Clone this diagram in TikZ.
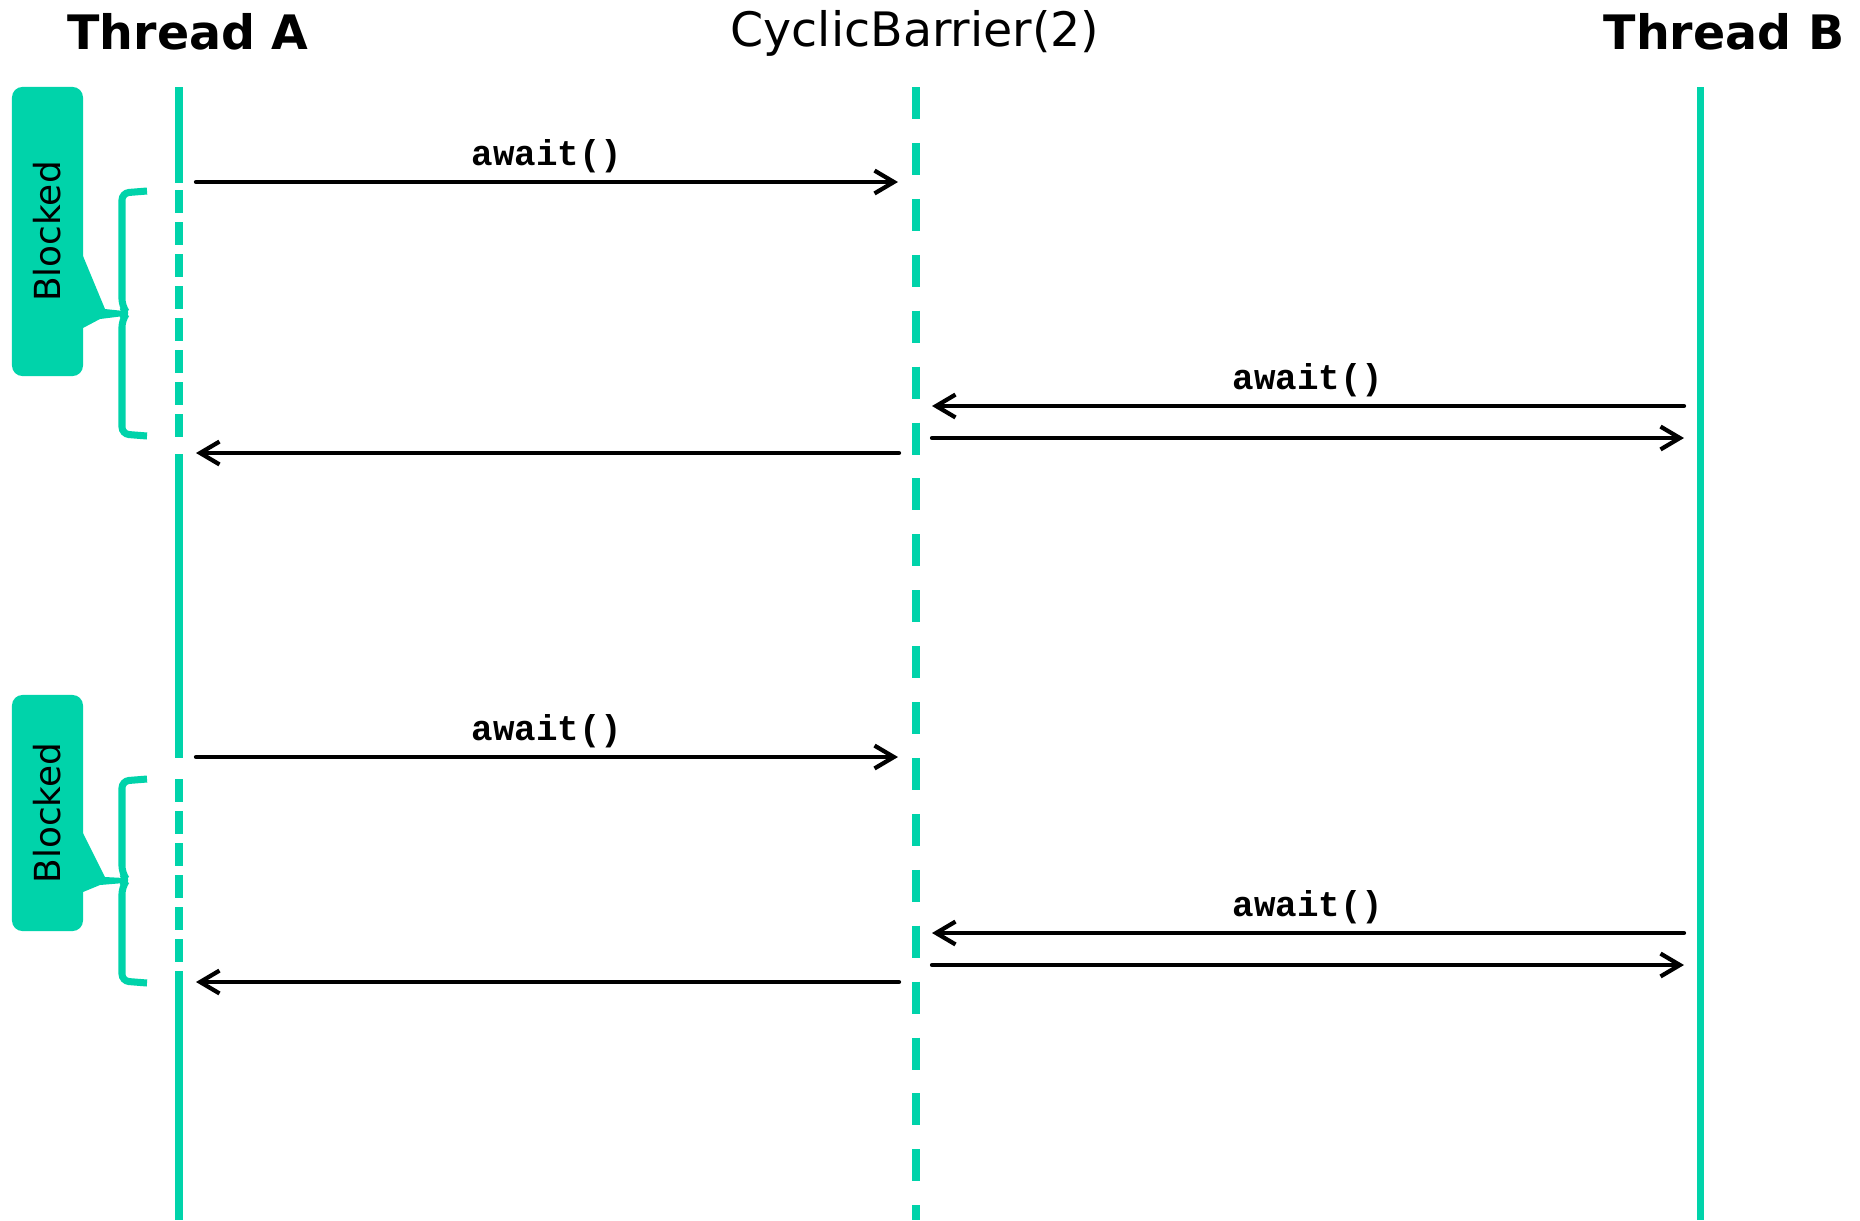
\documentclass[tikz,border=0pt]{standalone}
\usepackage{fontspec}
\setmainfont{DejaVu Sans}
\setmonofont{Liberation Mono}
\usetikzlibrary{arrows.meta}
\definecolor{lifegreen}{RGB}{0,211,170}
\newcommand{\point}[2] {\coordinate (#2) at (#1);}
\newcommand{\header}[3] {\node at (#1) (#2) [header] {#3};}
\newcommand{\callmsg}[3] {\draw [msg] (#1) -- (#2) node [midway, anchor=base, yshift=4.6pt, font=\ttfamily\bfseries\fontsize{10.2}{12}\selectfont] {#3};}
\newcommand{\replymsg}[2] {\draw [msg] (#1) -- (#2);}

\begin{document}
\begin{tikzpicture}[x=0.01cm, y=-0.01cm,
  header/.style={anchor=base, font=\fontsize{13.5}{16}\selectfont},
  msg/.style={line width=1.2pt, line cap=round, -{Straight Barb[length=5.5pt,width=6.5pt]}},
  lifeline/.style={lifegreen, line width=2pt},
  waitline/.style={lifegreen, line width=2pt, dash pattern=on 6.5pt off 2.6pt},
  barrierline/.style={lifegreen, line width=2.3pt, dash pattern=on 9.1pt off 6.8pt},
  blockbox/.style={fill=lifegreen, rounded corners=3pt, rotate=90, inner sep=0pt, minimum height=0.71cm, font=\fontsize{10.2}{12}\selectfont},
  bracket/.style={lifegreen, line width=2pt, rounded corners=2pt}]

\useasboundingbox (0,0) rectangle (1860,1220);

\header {188,49} {threadA} {\bfseries Thread A};
\header {915,46} {barrier} {CyclicBarrier(2)};
\header {1724,49} {threadB} {\bfseries Thread B};

% lifelines
\point {179,87} {a0};
\point {179,183} {a1};
\point {179,190} {a2};
\point {179,446} {a3};
\point {179,454} {a4};
\point {179,758} {a5};
\point {179,779} {a6};
\point {179,975} {a7};
\point {179,1220} {a8};
\point {916,87} {btop};
\point {916,1220} {bbot};
\point {1700,87} {ctop};
\point {1700,1220} {cbot};

\draw [lifeline] (a0) -- (a1);
\draw [waitline] (a2) -- (a3);
\draw [lifeline] (a4) -- (a5);
\draw [waitline] (a6) -- (a7);
\draw [lifeline] (a7) -- (a8);
\draw [barrierline] (btop) -- (bbot);
\draw [lifeline] (ctop) -- (cbot);

% first round
\point {196,182} {s1};
\point {898,182} {r1};
\point {1684,406} {s2};
\point {932,406} {r2};
\point {932,438} {s3};
\point {1684,438} {r3};
\point {899,453} {s4};
\point {196,453} {r4};

\callmsg{s1}{r1}{await()};
\callmsg{s2}{r2}{await()};
\replymsg{s3}{r3};
\replymsg{s4}{r4};

% second round
\point {196,757} {s5};
\point {898,757} {r5};
\point {1684,933} {s6};
\point {932,933} {r6};
\point {932,965} {s7};
\point {1684,965} {r7};
\point {899,982} {s8};
\point {196,982} {r8};

\callmsg{s5}{r5}{await()};
\callmsg{s6}{r6}{await()};
\replymsg{s7}{r7};
\replymsg{s8}{r8};

% blocked callouts
\node at (47.5,231.5) (blocked1) [blockbox, minimum width=2.89cm] {Blocked};
\fill [lifegreen] (83,256) -- (105,309) -- (124,311) -- (124,316) -- (100,319) -- (83,328) -- cycle;
\draw [bracket] (147,191) -- (122,193) -- (122,306) -- (127,313) -- (122,320) -- (122,434) -- (147,436);

\node at (47.5,813) (blocked2) [blockbox, minimum width=2.36cm] {Blocked};
\fill [lifegreen] (83,833) -- (105,877) -- (124,878) -- (124,883) -- (100,885) -- (83,892) -- cycle;
\draw [bracket] (147,779) -- (122,781) -- (122,873) -- (127,880) -- (122,887) -- (122,981) -- (147,983);

\end{tikzpicture}
\end{document}
